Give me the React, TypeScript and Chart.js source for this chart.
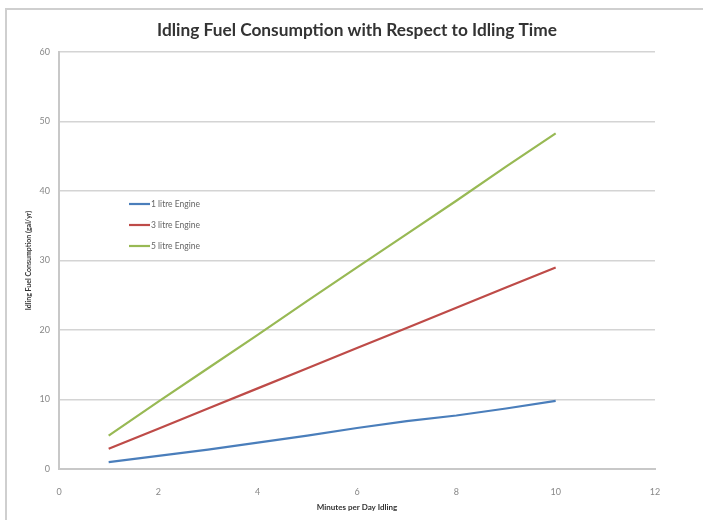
import React, { useEffect, useRef } from "react";
import { Chart, registerables } from "chart.js";

Chart.register(...registerables);

const minutes = [1, 2, 3, 4, 5, 6, 7, 8, 9, 10];
const litre1 = [1.0, 1.9, 2.8, 3.8, 4.8, 5.9, 6.9, 7.7, 8.7, 9.8];
const litre3 = [2.9, 5.8, 8.7, 11.6, 14.5, 17.4, 20.3, 23.2, 26.1, 29.0];
const litre5 = [4.8, 9.7, 14.5, 19.3, 24.2, 29.0, 33.8, 38.6, 43.5, 48.3];
const seriesNames = ["1 litre Engine", "3 litre Engine", "5 litre Engine"];
const xTicks = [0, 2, 4, 6, 8, 10, 12];
const yTicks = [0, 10, 20, 30, 40, 50, 60];
const titleText = "Idling Fuel Consumption with Respect to Idling Time";
const xTitle = "Minutes per Day Idling";
const yTitle = "Idling Fuel Consumption (gal/yr)";

const colors = ["#4A7EBB", "#BE4B48", "#98B954"];
const FONT = "Lato, 'Open Sans', sans-serif";

const legendPlugin = {
  id: "insideLegend",
  afterDatasetsDraw(chart: any) {
    const { ctx, chartArea } = chart;
    ctx.save();
    ctx.font = `8.5px ${FONT}`;
    ctx.textBaseline = "middle";
    chart.data.datasets.forEach((ds: any, i: number) => {
      const y = chartArea.top + 152 + i * 21;
      const x = chartArea.left + 70;
      ctx.strokeStyle = ds.borderColor;
      ctx.lineWidth = 2.2;
      ctx.beginPath();
      ctx.moveTo(x, y);
      ctx.lineTo(x + 21, y);
      ctx.stroke();
      ctx.fillStyle = "#666";
      ctx.fillText(ds.label, x + 22, y);
    });
    ctx.restore();
  },
};

const titlePlugin = {
  id: "customTitle",
  afterDraw(chart: any) {
    const { ctx } = chart;
    ctx.save();
    ctx.font = `bold 17.3px ${FONT}`;
    ctx.fillStyle = "#333";
    ctx.textAlign = "center";
    ctx.textBaseline = "middle";
    ctx.fillText(titleText, 357, 30);
    ctx.restore();
  },
};

export default function App() {
  const ref = useRef<HTMLCanvasElement>(null);

  useEffect(() => {
    document.body.style.margin = "0";
    const mk = (vals: number[]) => minutes.map((m, i) => ({ x: m, y: vals[i] }));
    const data = [litre1, litre3, litre5];
    const chart = new Chart(ref.current!, {
      type: "line",
      data: {
        datasets: data.map((d, i) => ({
          label: seriesNames[i],
          data: mk(d),
          borderColor: colors[i],
          backgroundColor: colors[i],
          borderWidth: 2.2,
          pointRadius: 0,
          tension: 0,
        })),
      },
      options: {
        animation: false,
        responsive: false,
        layout: { padding: { left: 20, right: 48, top: 52, bottom: 0 } },
        plugins: {
          legend: { display: false },
          tooltip: { enabled: false },
          title: { display: false },
        },
        scales: {
          x: {
            type: "linear",
            min: 0,
            max: 12,
            afterBuildTicks: (axis: any) => {
              axis.ticks = xTicks.map((v) => ({ value: v }));
            },
            afterFit: (axis: any) => {
              axis.height = 51;
            },
            grid: { display: true, drawOnChartArea: false, drawTicks: false, color: "#c8c8c8", lineWidth: 2 },
            border: { display: true, color: "#c8c8c8", width: 2 },
            ticks: { color: "#888", font: { family: FONT, size: 9 }, padding: 18, maxRotation: 0 },
            title: {
              display: true,
              text: xTitle,
              color: "#333",
              font: { family: FONT, size: 8, weight: "bold" },
              padding: { top: 2, bottom: 8 },
            },
          },
          y: {
            min: 0,
            max: 60,
            afterBuildTicks: (axis: any) => {
              axis.ticks = yTicks.map((v) => ({ value: v }));
            },
            afterFit: (axis: any) => {
              axis.width = 39;
            },
            grid: { color: "#d4d4d4", lineWidth: 1.5, drawTicks: false },
            border: { display: true, color: "#c8c8c8", width: 2 },
            ticks: { color: "#888", font: { family: FONT, size: 9 }, padding: 9 },
            title: {
              display: true,
              text: yTitle,
              color: "#333",
              font: { family: FONT, size: 7, weight: "bold" },
              padding: { top: 5, bottom: 0 },
            },
          },
        },
      },
      plugins: [legendPlugin, titlePlugin],
    } as any);
    return () => chart.destroy();
  }, []);

  return (
    <div style={{ position: "relative", width: 703, height: 520, overflow: "hidden", background: "#fff" }}>
      <div
        style={{
          position: "absolute",
          left: 5,
          top: 8,
          width: 800,
          height: 700,
          borderTop: "2px solid #cfcfcf",
          borderLeft: "2px solid #cfcfcf",
        }}
      />
      <canvas ref={ref} width={703} height={520} style={{ position: "absolute", left: 0, top: 0 }} />
    </div>
  );
}
